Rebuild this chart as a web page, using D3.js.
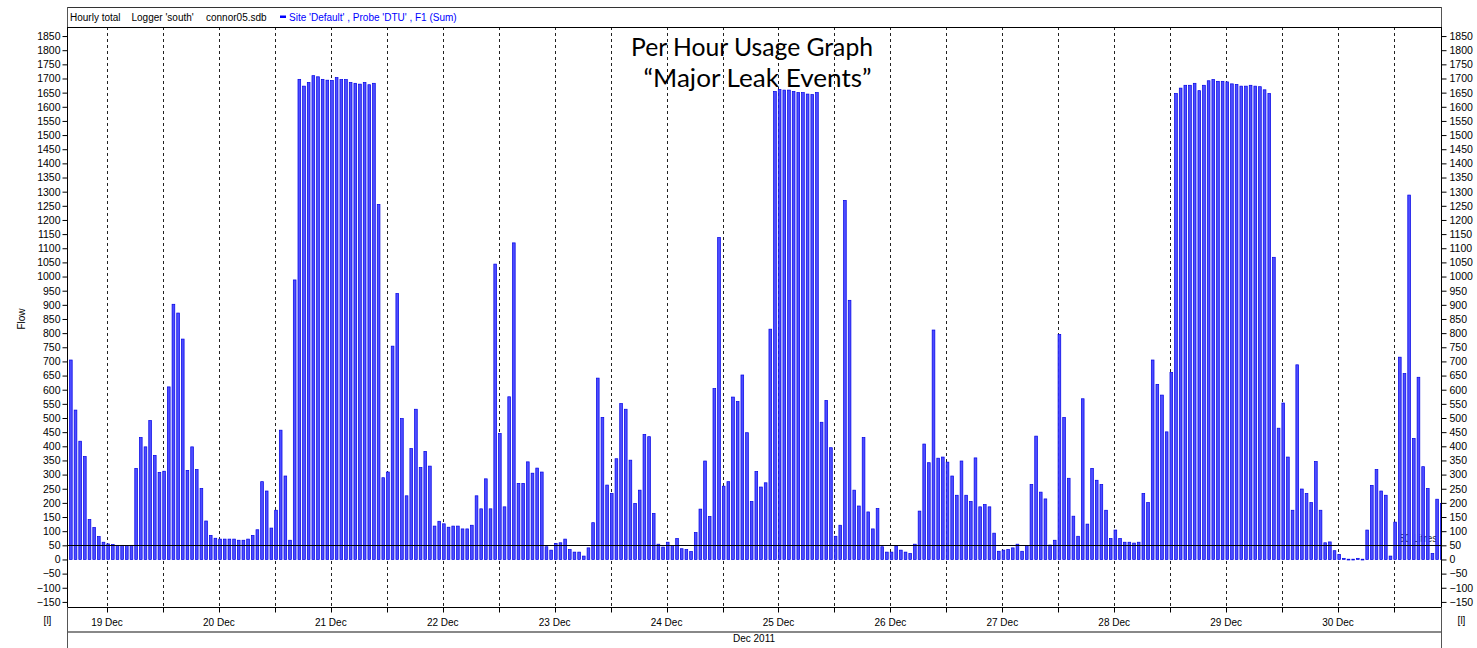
<!DOCTYPE html>
<html><head><meta charset="utf-8">
<script src="https://cdn.jsdelivr.net/npm/d3@7"></script>
<style>body{margin:0;background:#fff}</style>
</head><body>
<svg id="c" width="1477" height="648"></svg>
<script>
// ---------- data ----------
const firstHour = Date.UTC(2011, 11, 19, 4); // first hourly bar
const flow = [
 705,528,418,364,141,113,81,61,55,53,50,50,49,50,322,431,398,491,368,308,
 312,610,902,871,779,315,398,318,251,136,85,75,72,72,72,72,68,68,72,85,
 105,275,242,111,174,457,295,68,988,
 1697,1673,1686,1710,1706,1697,1694,1693,1703,1696,1696,1686,1683,1680,1686,1678,1683,1255,289,309,
 754,940,498,225,392,531,325,382,330,118,135,126,114,118,118,108,108,121,225,179,
 285,179,1044,445,186,575,1119,269,269,345,305,323,309,45,
 33,57,59,72,35,26,26,12,41,130,641,502,263,233,356,551,531,351,198,245,
 442,434,163,54,44,61,49,74,38,35,28,95,178,348,152,604,1138,259,275,574,
 558,652,448,205,311,256,271,814,1654,1661,1659,1659,1654,1650,1650,1645,1643,1650,
 485,562,395,82,121,1269,916,245,189,431,168,108,180,45,26,26,48,33,26,21,
 54,171,408,342,811,358,362,344,295,227,348,227,205,359,186,194,186,93,29,33,
 35,41,54,29,49,
 265,436,238,214,51,68,795,502,287,153,82,568,125,322,280,265,174,74,104,74,
 61,61,58,61,233,201,705,619,581,451,661,1647,1666,1676,1676,1683,1657,1676,1692,1696,
 1690,1690,1688,1681,1679,1673,1673,1676,1673,1671,1660,1647,
 1068,464,553,362,174,688,249,233,201,346,174,59,62,31,18,4,1,1,4,1,
 104,262,318,242,227,12,132,715,657,1288,428,644,328,251,21,213,198
];
const yTickValues = d3.range(-150, 1851, 50);
const refLevel = 50;
const refLabel = "50 Litres";
const headerBlack = [["Hourly total", 70], ["Logger 'south'", 131.5], ["connor05.sdb", 206]];
const seriesLabel = "Site 'Default' , Probe 'DTU' , F1 (Sum)";
const titleLines = ["Per Hour Usage Graph", "\u201CMajor Leak Events\u201D"];
const yTitle = "Flow";
const unitLabel = "[l]";
const monthLabel = "Dec 2011";

// ---------- layout ----------
const L = 67, R = 1441, T = 27, B = 607;
const H = 3600e3;
const day0 = Date.UTC(2011, 11, 19);
const x = d3.scaleUtc()
  .domain([new Date(day0 + 3.4218 * H), new Date(day0 + 298.08 * H)])
  .range([L, R]);
const y = d3.scaleLinear().domain([-168, 1882]).range([B, T]);

const svg = d3.select("#c");
const font = "'Liberation Sans', Arial, sans-serif";

// clip
svg.append("clipPath").attr("id", "plot").append("rect")
  .attr("x", L).attr("y", T).attr("width", R - L).attr("height", B - T);

// header
headerBlack.forEach(([t, px]) => {
  svg.append("text").attr("x", px).attr("y", 20.5).text(t)
    .attr("font-family", font).attr("font-size", 10).attr("fill", "#000");
});
svg.append("rect").attr("x", 280).attr("y", 15.5).attr("width", 6).attr("height", 2.5).attr("fill", "#0000ff");
svg.append("text").attr("x", 289).attr("y", 20.5).text(seriesLabel)
  .attr("font-family", font).attr("font-size", 10).attr("fill", "#0000ff");

// grid lines (dashed, every 12 h)
const gridTicks = x.ticks(d3.utcHour.every(12)).filter(d => x(d) > L + 1 && x(d) < R - 1);
svg.append("g").selectAll("line").data(gridTicks).join("line")
  .attr("x1", d => Math.round(x(d)) + 0.5).attr("x2", d => Math.round(x(d)) + 0.5)
  .attr("y1", T).attr("y2", B)
  .attr("stroke", "#222").attr("stroke-width", 1).attr("stroke-dasharray", "3,3");

// reference label (behind bars)
svg.append("text").attr("x", 1399).attr("y", 542).text(refLabel)
  .attr("font-family", font).attr("font-size", 10).attr("fill", "#333");

// bars
const barData = flow.map((v, i) => ({ t: new Date(firstHour + i * H), v }));
svg.append("g").attr("clip-path", "url(#plot)").selectAll("rect").data(barData).join("rect")
  .attr("x", d => x(d.t) - 0.2)
  .attr("width", 2.7)
  .attr("y", d => y(d.v))
  .attr("height", d => Math.max(0.8, y(0) - y(d.v)))
  .attr("fill", "#4d4dff")
  .attr("stroke", "#0000e6")
  .attr("stroke-width", 0.7);

// reference line
svg.append("line").attr("x1", L).attr("x2", R)
  .attr("y1", Math.round(y(refLevel)) + 0.5).attr("y2", Math.round(y(refLevel)) + 0.5)
  .attr("stroke", "#000").attr("stroke-width", 1);

// y axes
const tf = d3.format("d");
const axL = d3.axisLeft(y).tickValues(yTickValues).tickFormat(tf).tickSize(5).tickPadding(2);
const gL = svg.append("g").attr("transform", `translate(${L + 0.5},0)`).call(axL);
const axR = d3.axisRight(y).tickValues(yTickValues).tickFormat(tf).tickSize(5).tickPadding(3);
const gR = svg.append("g").attr("transform", `translate(${R + 0.5},0)`).call(axR);
[gL, gR].forEach(g => {
  g.select(".domain").remove();
  g.selectAll("text").attr("font-family", font).attr("font-size", 10.5).attr("fill", "#000");
  g.selectAll("line").attr("stroke", "#000");
});

// x axis (bottom): ticks every 12h, labels at noon
const gX = svg.append("g").attr("transform", `translate(0,${B + 0.5})`);
gX.selectAll("line").data(gridTicks).join("line")
  .attr("x1", d => Math.round(x(d)) + 0.5).attr("x2", d => Math.round(x(d)) + 0.5)
  .attr("y1", 0).attr("y2", 5).attr("stroke", "#000");
const dayTicks = x.ticks(d3.utcHour.every(12)).filter(d => d.getUTCHours() === 12);
const fmt = d3.utcFormat("%-d %b");
gX.selectAll("text").data(dayTicks).join("text")
  .attr("x", d => x(d)).attr("y", 18).attr("text-anchor", "middle")
  .attr("font-family", font).attr("font-size", 10).text(d => fmt(d));

// frame lines
svg.append("line").attr("x1", L).attr("x2", R + 1).attr("y1", 7.5).attr("y2", 7.5).attr("stroke", "#333");
svg.append("line").attr("x1", L).attr("x2", R + 1).attr("y1", T + 0.5).attr("y2", T + 0.5).attr("stroke", "#000");
svg.append("line").attr("x1", L).attr("x2", R + 1).attr("y1", B + 0.5).attr("y2", B + 0.5).attr("stroke", "#000");
svg.append("line").attr("x1", L).attr("x2", R + 1).attr("y1", 632).attr("y2", 632).attr("stroke", "#888").attr("stroke-width", 2);
svg.append("line").attr("x1", L + 0.5).attr("x2", L + 0.5).attr("y1", 7).attr("y2", 648).attr("stroke", "#555");
svg.append("line").attr("x1", R + 0.5).attr("x2", R + 0.5).attr("y1", 7).attr("y2", 648).attr("stroke", "#555");
svg.append("line").attr("x1", L + 0.5).attr("x2", L + 0.5).attr("y1", T).attr("y2", B).attr("stroke", "#000");
svg.append("line").attr("x1", R + 0.5).attr("x2", R + 0.5).attr("y1", T).attr("y2", B).attr("stroke", "#000");

// month label
svg.append("text").attr("x", 754).attr("y", 642).attr("text-anchor", "middle")
  .attr("font-family", font).attr("font-size", 10).text(monthLabel);

// unit labels
svg.append("text").attr("x", 47.5).attr("y", 624).attr("text-anchor", "middle")
  .attr("font-family", font).attr("font-size", 10).text(unitLabel);
svg.append("text").attr("x", 1461.5).attr("y", 624).attr("text-anchor", "middle")
  .attr("font-family", font).attr("font-size", 10).text(unitLabel);

// y title
svg.append("text").attr("transform", "translate(24.5,319) rotate(-90)")
  .attr("text-anchor", "middle").attr("font-family", font).attr("font-size", 10).text(yTitle);

// chart title
svg.append("text").attr("x", 752).attr("y", 56).attr("text-anchor", "middle")
  .attr("font-family", "Lato, 'Open Sans', sans-serif").attr("font-size", 24.5)
  .attr("textLength", 242).attr("lengthAdjust", "spacingAndGlyphs").text(titleLines[0]);
svg.append("text").attr("x", 757.5).attr("y", 86.7).attr("text-anchor", "middle")
  .attr("font-family", "Lato, 'Open Sans', sans-serif").attr("font-size", 24.5)
  .attr("textLength", 228).attr("lengthAdjust", "spacingAndGlyphs").text(titleLines[1]);
</script>
</body></html>
